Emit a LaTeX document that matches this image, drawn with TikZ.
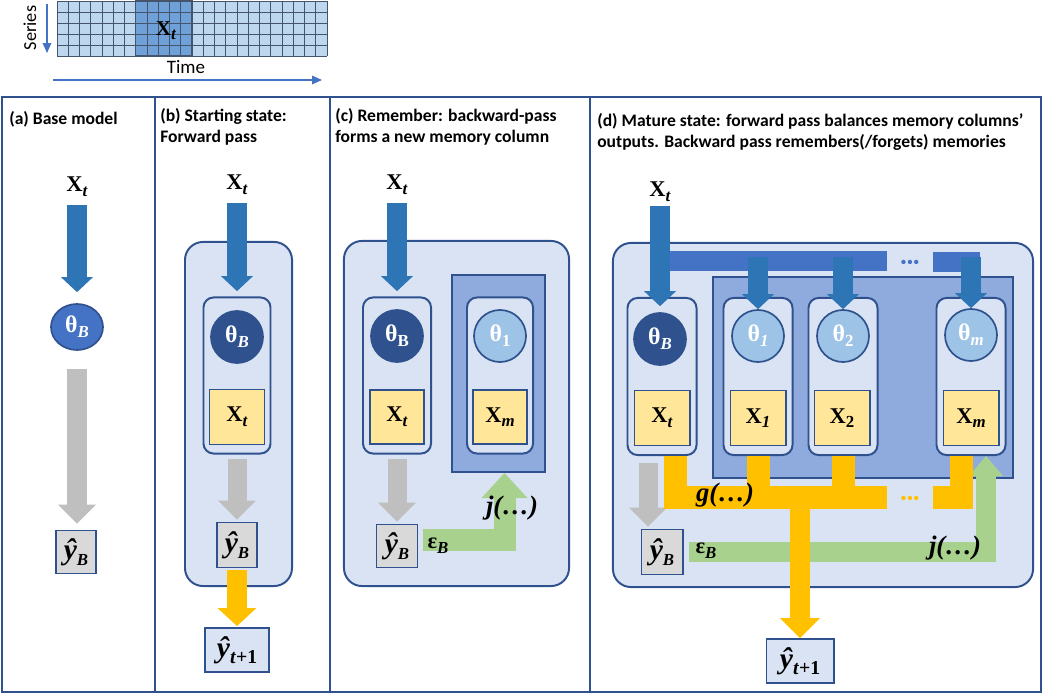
\documentclass[tikz,border=0pt]{standalone}
\usepackage{fontspec}
\setmainfont{Liberation Serif}
\newfontfamily\headfont{Carlito}
\usetikzlibrary{arrows.meta,shapes.geometric}

\definecolor{frameblue}{HTML}{2F528F}
\definecolor{lightfill}{HTML}{DAE3F3}
\definecolor{arrblue}{HTML}{2E75B6}
\definecolor{barblue}{HTML}{4472C4}
\definecolor{memfill}{HTML}{8FAADC}
\definecolor{thlight}{HTML}{9DC3E6}
\definecolor{yfill}{HTML}{FFE699}
\definecolor{greyarr}{HTML}{BFBFBF}
\definecolor{greyfill}{HTML}{D9D9D9}
\definecolor{orng}{HTML}{FFC000}
\definecolor{grn}{HTML}{A9D18E}
\definecolor{cellfill}{HTML}{BDD7EE}
\definecolor{cellblock}{HTML}{6FA0D8}
\definecolor{gridline}{HTML}{44546A}

\newcommand{\lsub}[1]{\raisebox{-0.45ex}{\fontsize{12}{12}\selectfont #1}}
\newcommand{\bi}[1]{\textbf{\textit{#1}}}

\tikzset{
  panelbox/.style={draw=frameblue, line width=1.4pt},
  outerbox/.style={draw=frameblue, fill=lightfill, line width=1.4pt, rounded corners=0.45cm, inner sep=0pt},
  colbox/.style={draw=frameblue, fill=lightfill, line width=1.4pt, rounded corners=0.25cm, inner sep=0pt, minimum width=1.725cm, minimum height=3.925cm},
  membox/.style={draw=frameblue, fill=memfill, line width=1.4pt, inner sep=0pt},
  heading/.style={anchor=north west, align=left, inner sep=0pt, font=\headfont\bfseries\fontsize{12.5}{15}\selectfont},
  mlbl/.style={inner sep=0pt, font=\fontsize{16}{16}\selectfont\bfseries},
  biglbl/.style={inner sep=0pt, font=\fontsize{19}{19}\selectfont},
  thbase/.style={circle, draw=frameblue, line width=1.2pt, text=white, inner sep=0pt, minimum size=1.3cm, font=\fontsize{17}{17}\selectfont\bfseries},
  thdark/.style={thbase, fill=frameblue},
  thmem/.style={thbase, fill=thlight},
  xbox/.style={draw=frameblue, fill=yfill, line width=1.4pt, inner sep=0pt, minimum size=1.375cm, font=\fontsize{16}{16}\selectfont\bfseries},
  yhat/.style={draw=frameblue, fill=greyfill, line width=1.4pt, inner sep=0pt, minimum width=1.025cm, minimum height=1.1cm, font=\fontsize{21}{21}\selectfont},
  ynext/.style={draw=frameblue, fill=lightfill, line width=1.4pt, inner sep=0pt, minimum width=1.65cm, minimum height=1.1cm, font=\fontsize{21}{21}\selectfont},
  bluearr/.style={draw=arrblue, line width=0.5cm, -{Triangle[width=0.8cm,length=0.375cm,line width=0pt]}},
  greyarrow/.style={draw=greyarr, line width=0.475cm, -{Triangle[width=0.95cm,length=0.475cm,line width=0pt]}},
  orgarr/.style={draw=orng, line width=0.5cm, -{Triangle[width=0.975cm,length=0.45cm,line width=0pt]}},
  orgbar/.style={draw=orng, line width=0.575cm},
  grnarr/.style={draw=grn, line width=0.55cm, -{Triangle[width=1.15cm,length=0.625cm,line width=0pt]}},
  bluebar/.style={draw=barblue, line width=0.475cm},
}

\begin{document}
\begin{tikzpicture}[x=0.025cm, y=-0.025cm]
\useasboundingbox (0,0) rectangle (1043,694);

% time series grid
\fill[cellfill] (57,1) rectangle (327,56);
\fill[cellblock] (135.75,1) rectangle (192,56);
\foreach \i in {0,...,24}
  \draw[gridline, line width=0.4pt] (57+\i*11.25,1) -- (57+\i*11.25,56);
\foreach \j in {0,...,5}
  \draw[gridline, line width=0.4pt] (57,1+\j*11) -- (327,1+\j*11);
\draw[gridline, line width=0.8pt] (135.75,1) rectangle (192,56);
\node[mlbl, font=\fontsize{15}{15}\selectfont\bfseries] (xgrid) at (166,31) {X\lsub{\textit{t}}};
\node[rotate=90, font=\headfont\fontsize{13}{13}\selectfont] (series) at (30,28) {Series};
\node[font=\headfont\fontsize{13.5}{13.5}\selectfont] (time) at (186,67) {Time};
\coordinate (s0) at (47,4);
\coordinate (s1) at (47,53);
\coordinate (t0) at (53,80);
\coordinate (t1) at (322,80);
\draw[barblue, line width=1pt, -{Triangle[width=6pt,length=7pt]}] (s0) -- (s1);
\draw[barblue, line width=1pt, -{Triangle[width=6pt,length=7pt]}] (t0) -- (t1);

% panels
\draw[panelbox] (2,97) rectangle (155,692);
\draw[panelbox] (155,97) rectangle (330,692);
\draw[panelbox] (330,97) rectangle (590,692);
\draw[panelbox] (590,97) rectangle (1041,692);

% (a) base model
\node[heading] (ha) at (9,111) {(a) Base model};
\node[mlbl] (xa) at (77,187) {X\lsub{\textit{t}}};
\node[ellipse, draw=frameblue, fill=barblue, line width=1.2pt, text=white, inner sep=0pt,
  minimum width=1.3cm, minimum height=1.15cm, font=\fontsize{17}{17}\selectfont\bfseries] (tha) at (77,327) {θ\lsub{\bi{B}}};
\node[yhat, minimum width=1cm, minimum height=1.075cm] (yba) at (76,552) {\bi{ŷ}\lsub{\bi{B}}};
\draw[bluearr, shorten <=0.2cm, shorten >=0.275cm] (xa.south) -- (tha.north);
\draw[greyarrow, shorten <=0.45cm, shorten >=0.15cm] (tha.south) -- (tha.south |- yba.north);

% (b) starting state
\node[heading] (hb) at (160,108) {(b) Starting state:\\Forward pass};
\node[mlbl] (xb) at (237,185) {X\lsub{\textit{t}}};
\node[outerbox, minimum width=2.675cm, minimum height=8.6cm] (outb) at (238.5,414) {};
\node[colbox, minimum width=1.675cm, minimum height=3.9cm] (colb) at (237,375.5) {};
\node[thdark] (thb) at (237,337) {θ\lsub{\bi{B}}};
\node[xbox] (xbb) at (237,417) {X\lsub{\textit{t}}};
\node[yhat, minimum width=1cm, minimum height=1.125cm] (ybb) at (237,545) {\bi{ŷ}\lsub{\bi{B}}};
\node[ynext, minimum width=1.6cm] (ytb) at (237,650) {\bi{ŷ}\lsub{\fontsize{14}{14}\selectfont\bi{t}\textbf{+1}}};
\draw[bluearr, shorten <=0.2cm, shorten >=0.475cm] (xb.south) -- (thb.north);
\draw[greyarrow, shorten <=0.1cm, shorten >=0.05cm] (colb.south) -- (ybb.north);
\draw[orgarr, shorten <=0.05cm, shorten >=0.025cm] (ybb.south) -- (ytb.north);

% (c) remember
\node[heading] (hc) at (335,108) {(c) Remember: backward-pass\\forms a new memory column};
\node[mlbl] (xc) at (397,185) {X\lsub{\textit{t}}};
\node[outerbox, minimum width=5.625cm, minimum height=8.625cm] (outc) at (456.5,413.5) {};
\node[membox, minimum width=2.325cm, minimum height=4.925cm] (memc) at (498.5,373.5) {};
\node[colbox, minimum width=1.7cm, minimum height=3.9cm] (colc) at (397,375.5) {};
\node[colbox, minimum width=1.65cm, minimum height=3.9cm] (colmc) at (500,375.5) {};
\node[thdark] (thc) at (397,336) {θ\lsub{\textbf{B}}};
\node[thmem] (th1c) at (500,336) {θ\lsub{\textbf{1}}};
\node[xbox, minimum size=1.35cm] (xtc) at (397,417) {X\lsub{\textit{t}}};
\node[xbox, minimum size=1.35cm] (xmc) at (500,417) {X\lsub{\textit{m}}};
\node[yhat, minimum height=1.075cm] (ybc) at (397,546) {\bi{ŷ}\lsub{\bi{B}}};
\draw[bluearr, shorten <=0.2cm, shorten >=0.45cm] (xc.south) -- (thc.north);
\draw[greyarrow, shorten <=0.1cm, shorten >=0.05cm] (colc.south) -- (ybc.north);
\draw[grnarr, shorten <=0.125cm] ([yshift=0.15cm]ybc.east) -| ([xshift=0.15cm]memc.south);
\node[mlbl] (epsc) at (438,546) {ε\lsub{\bi{B}}};
\node[biglbl] (jc) at (512,508) {\bi{j(…)}};

% (d) mature state
\node[heading] (hd) at (597,113) {(d) Mature state: forward pass balances memory columns’\\outputs. Backward pass remembers(/forgets) memories};
\node[mlbl] (xd) at (660,192) {X\lsub{\textit{t}}};
\node[outerbox, minimum width=10.5cm, minimum height=8.6cm] (outd) at (823,415) {};
\node[membox, minimum width=7.5cm, minimum height=5.025cm] (memd) at (863,377.5) {};
\node[colbox] (cold0) at (662,376.5) {};
\node[colbox] (cold1) at (758,376.5) {};
\node[colbox] (cold2) at (843,376.5) {};
\node[colbox] (coldm) at (971,376.5) {};
\node[thdark] (thd0) at (660,339) {θ\lsub{\bi{B}}};
\node[thmem] (thd1) at (758,336) {θ\lsub{\bi{1}}};
\node[thmem] (thd2) at (843,336) {θ\lsub{\textbf{2}}};
\node[thmem] (thdm) at (971,335) {θ\lsub{\bi{m}}};
\node[xbox] (xtd) at (662,418) {X\lsub{\textit{t}}};
\node[xbox] (x1d) at (758,418) {X\lsub{\bi{1}}};
\node[xbox] (x2d) at (842,418) {X\lsub{\textbf{2}}};
\node[xbox] (xmd) at (971,418) {X\lsub{\textit{m}}};
\node[yhat, minimum height=1.125cm] (ybd) at (662,552) {\bi{ŷ}\lsub{\bi{B}}};
\node[ynext, minimum width=1.675cm] (ytd) at (800,661) {\bi{ŷ}\lsub{\fontsize{14}{14}\selectfont\bi{t}\textbf{+1}}};

\coordinate (bar0) at (660,261);
\coordinate (bar1) at (887,261);
\coordinate (bar2) at (933,262);
\coordinate (bar3) at (980,262);
\draw[bluebar] (bar0) -- (bar1);
\draw[bluebar] (bar2) -- (bar3);
\node[text=barblue, inner sep=0pt, font=\fontsize{13}{13}\selectfont] (dotsb) at (910,264) {•••};
\draw[bluearr, shorten <=0.1cm, shorten >=0.15cm] (xd.south) -- (xd.south |- thd0.north);
\draw[bluearr, shorten <=-0.1cm] (thd1 |- bar0) -- (thd1.north);
\draw[bluearr, shorten <=-0.1cm] (thd2 |- bar0) -- (thd2.north);
\draw[bluearr, shorten <=-0.1cm] (thdm |- bar0) -- (thdm.north);

\draw[greyarrow, shorten <=0.175cm, shorten >=0.05cm] ([xshift=-0.35cm]cold0.south) -- ([xshift=-0.35cm]cold0.south |- ybd.north);
\draw[grnarr, line width=0.5cm, -{Triangle[width=0.85cm,length=0.5cm,line width=0pt]}, shorten <=0.125cm] (ybd.east) -| ([xshift=0.375cm]coldm.south);

\coordinate (g0) at (887,497);
\coordinate (g1) at (933,497);
\draw[orgbar] ([xshift=0.325cm]cold0.south) |- (g0);
\draw[orgbar] (cold1.south) -- (cold1.south |- g0);
\draw[orgbar] (cold2.south) -- (cold2.south |- g0);
\draw[orgbar] ([xshift=-0.25cm]coldm.south) |- (g1);
\draw[orgarr, -{Triangle[width=1cm,length=0.5cm,line width=0pt]}] (ytd.north |- g0) -- (ytd.north);
\node[text=orng, inner sep=0pt, font=\fontsize{13}{13}\selectfont] (dotsg) at (910,500) {•••};
\node[biglbl] (gd) at (725,495) {\bi{g(…)}};
\node[mlbl] (epsd) at (706,551) {ε\lsub{\bi{B}}};
\node[biglbl] (jd) at (955,548) {\bi{j(…)}};
\end{tikzpicture}
\end{document}
